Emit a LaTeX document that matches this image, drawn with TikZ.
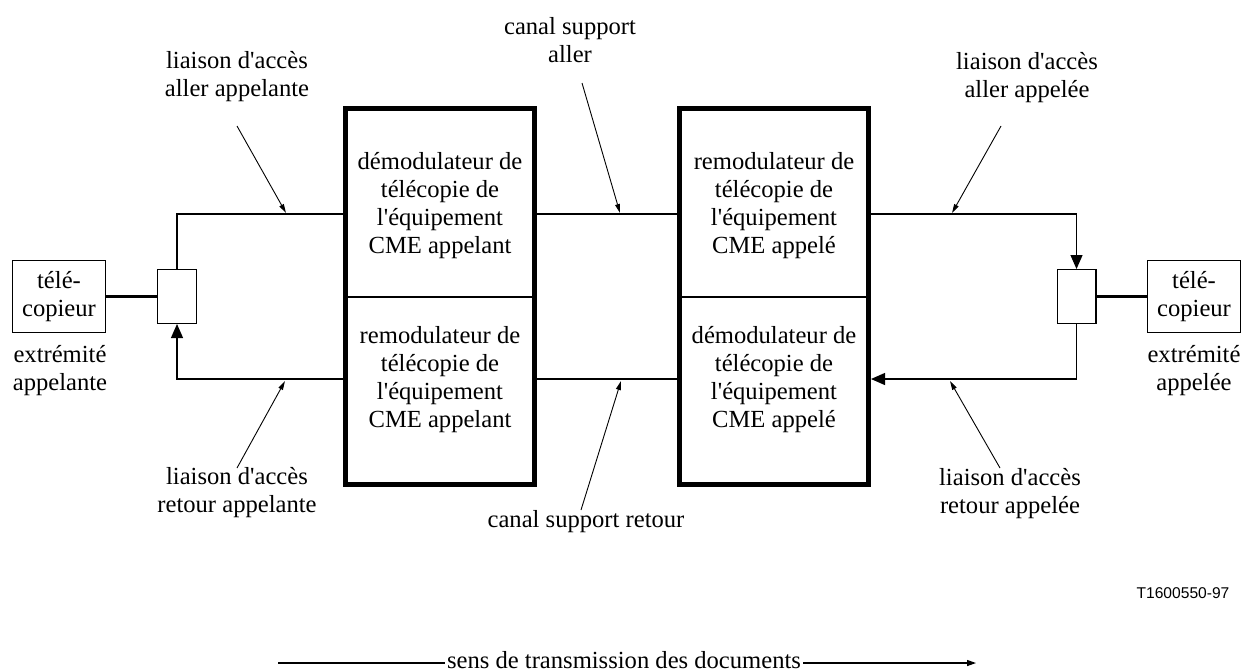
\documentclass[tikz,border=0pt]{standalone}
\usepackage{fontspec}
\setmainfont{Liberation Serif}
\newfontfamily\tagfont{Liberation Sans}
\usetikzlibrary{arrows.meta,calc}
\newcommand{\ap}{\textquotesingle}

\begin{document}
\begin{tikzpicture}[x=0.5pt, y=-0.5pt,
        every node/.style={align=center, font=\fontsize{12.3}{14}\selectfont},
        tele/.style={draw, line width=0.6pt, minimum width=46.4pt, minimum height=35.9pt, inner sep=0pt},
        hyb/.style={draw, line width=0.6pt, minimum width=19.4pt, minimum height=26.9pt, inner sep=0pt},
        cme/.style={draw, line width=2.5pt, minimum width=94.5pt, minimum height=188pt, inner sep=0pt},
        wire/.style={line width=0.6pt},
        big/.style={wire, -{Triangle[length=7pt,width=6pt]}},
        lbl/.style={line width=0.45pt, -{Triangle[length=4.5pt,width=2.4pt]}}]
    \useasboundingbox (0,0) rectangle (1251,671);
    % levels of the two channels
    \coordinate (fwd) at (0,214);
    \coordinate (ret) at (0,379);
    % end points and equipment
    \node[tele] (teleL) at (59,296.5) {télé-\\copieur};
    \node[hyb] (hybL) at (177,296.5) {};
    \node[cme] (boxL) at (440,296.5) {};
    \node[cme] (boxR) at (774,296.5) {};
    \node[hyb] (hybR) at (1076.5,296.5) {};
    \node[tele] (teleR) at (1194,296.5) {télé-\\copieur};
    \node (extL) at (60,371) {extrémité\\appelante};
    \node (extR) at (1194,371) {extrémité\\appelée};
    \draw[line width=1pt] (boxL.west) -- (boxL.east);
    \draw[line width=1pt] (boxR.west) -- (boxR.east);
    \node (txLU) at (440,206) {démodulateur de\\télécopie de\\l\ap équipement\\CME appelant};
    \node (txLD) at (440,380) {remodulateur de\\télécopie de\\l\ap équipement\\CME appelant};
    \node (txRU) at (774,206) {remodulateur de\\télécopie de\\l\ap équipement\\CME appelé};
    \node (txRD) at (774,380) {démodulateur de\\télécopie de\\l\ap équipement\\CME appelé};
    % wires
    \draw[line width=1.1pt] (teleL) -- (hybL);
    \draw[line width=1.1pt] (hybR) -- (teleR);
    \draw[wire] (hybL.north) |- (boxL.west |- fwd);
    \draw[wire] (boxL.east |- fwd) -- (boxR.west |- fwd);
    \draw[big] (boxR.east |- fwd) -| (hybR.north);
    \draw[big] (hybR.south) |- (boxR.east |- ret);
    \draw[wire] (boxR.west |- ret) -- (boxL.east |- ret);
    \draw[big] (boxL.west |- ret) -| (hybL.south);
    % labels
    \node (labAL) at (237,77) {liaison d\ap accès\\aller appelante};
    \node (labCA) at (570,40) {canal support\\aller};
    \node (labAR) at (1027,78) {liaison d\ap accès\\aller appelée};
    \node (labRL) at (237,493) {liaison d\ap accès\\retour appelante};
    \node (labCR) at (586,522) {canal support retour};
    \node (labRR) at (1010,494) {liaison d\ap accès\\retour appelée};
    \coordinate (pAL) at (237,126);
    \coordinate (pCA) at (582,83);
    \coordinate (pAR) at (1001,126);
    \coordinate (pRL) at (237,468);
    \coordinate (pCR) at (581,510);
    \coordinate (pRR) at (1000,468);
    \coordinate (tAL) at (286,213);
    \coordinate (tCA) at (620,213);
    \coordinate (tAR) at (952,213);
    \coordinate (tRL) at (285,381);
    \coordinate (tCR) at (621,381);
    \coordinate (tRR) at (950,381);
    \draw[lbl] (pAL) -- (tAL);
    \draw[lbl] (pCA) -- (tCA);
    \draw[lbl] (pAR) -- (tAR);
    \draw[lbl] (pRL) -- (tRL);
    \draw[lbl] (pCR) -- (tCR);
    \draw[lbl] (pRR) -- (tRR);
    \node[font=\tagfont\fontsize{7.8}{9}\selectfont] (tag) at (1183,593) {T1600550-97};
    % direction of transmission
    \coordinate (dirS) at (278,663);
    \coordinate (dirE) at (976,663);
    \node[anchor=base, inner xsep=1pt] (dir) at (624,668) {sens de transmission des documents};
    \draw[wire] (dirS) -- (dir.west |- dirS);
    \draw[wire, -{Triangle[length=4.5pt,width=3pt]}] (dir.east |- dirS) -- (dirE);
\end{tikzpicture}
\end{document}
